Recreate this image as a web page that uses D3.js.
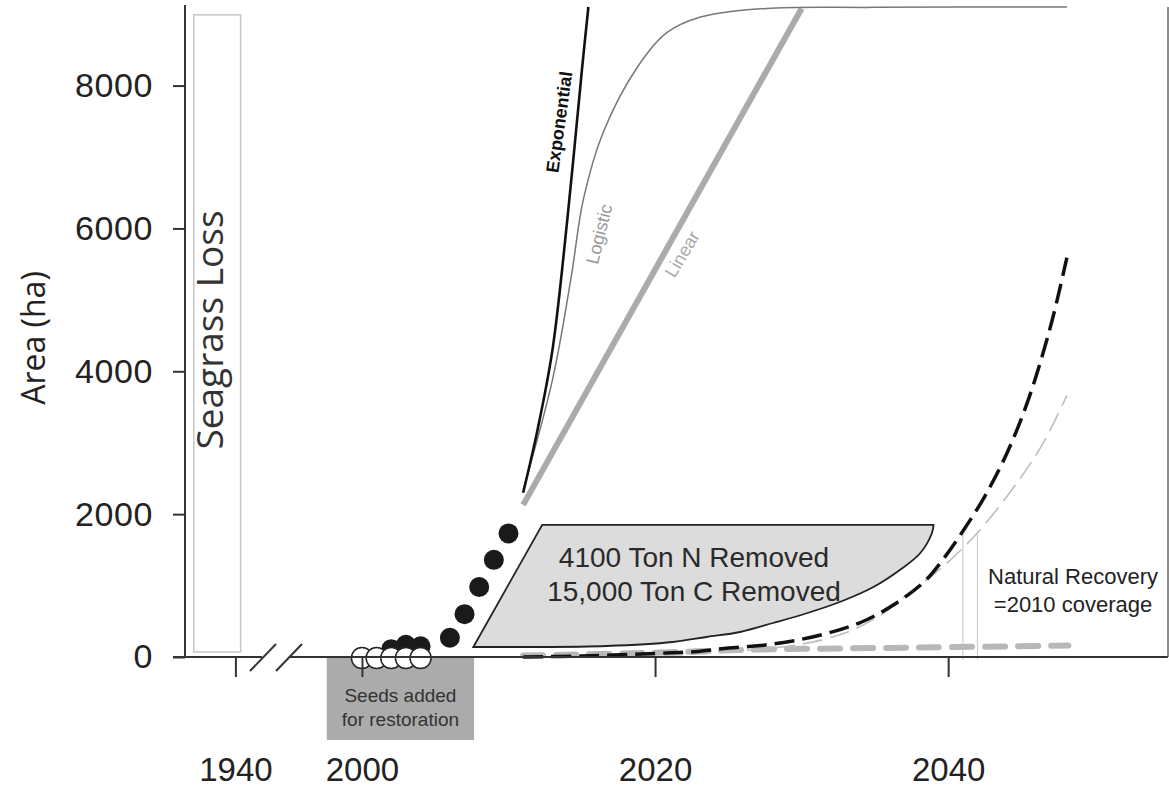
<!DOCTYPE html>
<html>
<head>
<meta charset="utf-8">
<script src="https://cdn.jsdelivr.net/npm/d3@7"></script>
<style>
  html, body { margin: 0; padding: 0; background: #fff; }
  svg { display: block; }
  .axis path, .axis line { stroke: #333; stroke-width: 2; }
  .axis text { fill: #222; font-family: "Liberation Sans", Arial, sans-serif; }
</style>
</head>
<body>
<svg id="chart"></svg>
<script>
// ---- data ----
const yTicks = [0, 2000, 4000, 6000, 8000];
const xTicks = [2000, 2020, 2040];
const preTicks = [1940];

// pre-break bar: seagrass lost before 1940
const lossYears = [1932, 1941];
const lossArea = 8990;

// seeded plots (open circles) and observed meadow area (filled)
const seedYears = [2000, 2001, 2002, 2003, 2004];
const seedArea  = [0, 0, 0, 0, 0];
const obsYears  = [2002, 2003, 2004, 2006, 2007, 2008, 2009, 2010];
const obsArea   = [110, 170, 150, 270, 600, 980, 1360, 1730];

// projections
const expYears = [2011, 2012, 2013, 2014, 2015, 2015.45];
const expArea  = [2300, 3200, 4300, 6100, 8200, 9100];
const logYears = [2011, 2013, 2014.3, 2015.1, 2016.45, 2018.8, 2020.8, 2023.1, 2027.6, 2035, 2048.1];
const logArea  = [2340, 3880, 5350, 6400, 7340, 8260, 8740, 8960, 9080, 9095, 9100];
const linYears = [2011, 2030];
const linArea  = [2130, 9080];

// natural recovery scenarios
const natBlackYears = [2011, 2015, 2020, 2022.7, 2025, 2027.2, 2029.4, 2031.8, 2034.1, 2036.2, 2038.4, 2039.7, 2041, 2042.5, 2044, 2045.5, 2047, 2048.1];
const natBlackArea  = [0, 15, 50, 75, 125, 160, 225, 335, 490, 720, 1060, 1380, 1760, 2250, 2850, 3620, 4640, 5590];
const natGrayYears  = [2011, 2020, 2025, 2030, 2033, 2035.5, 2037.6, 2039.5, 2042, 2044.7, 2046.5, 2048.1];
const natGrayArea   = [0, 20, 70, 180, 340, 600, 940, 1240, 1740, 2440, 3000, 3660];
const natFlatYears  = [2011, 2020, 2026, 2037, 2048.2];
const natFlatArea   = [20, 60, 100, 130, 160];
const markYears = [2041, 2042];
const markArea  = [1760, 1740];

// nutrient / carbon removal area
const removedYears = [2007.6, 2012.3, 2039.0, 2038.9, 2038.1, 2036.7, 2034.9, 2032.6, 2030.4, 2028.05, 2025.8, 2023.5, 2021.2, 2016.7, 2012.2];
const removedArea  = [140, 1850, 1850, 1740, 1456, 1218, 980, 770, 616, 476, 350, 280, 210, 154, 140];

// seeding period
const seedPeriod = [1997.6, 2007.65];

// ---- layout ----
const W = 1169, H = 789;
const svg = d3.select("#chart").attr("width", W).attr("height", H);

const y = d3.scaleLinear().domain([0, 9100]).range([657, 7]);
const x = d3.scaleLinear().domain([1995.5, 2055]).range([296, 1168]);
const xPre = d3.scaleLinear().domain([1928, 1943]).range([173, 251]);

const sans = "'Liberation Sans', Arial, sans-serif";
const human = "'Open Sans', 'Noto Sans', sans-serif";

// seeding box
svg.append("rect")
  .attr("x", x(seedPeriod[0])).attr("y", y(0))
  .attr("width", x(seedPeriod[1]) - x(seedPeriod[0])).attr("height", 83)
  .attr("fill", "#ababab");
svg.append("text")
  .attr("text-anchor", "middle").attr("font-family", sans).attr("font-size", 19)
  .attr("fill", "#333")
  .selectAll("tspan").data(["Seeds added", "for restoration"]).join("tspan")
  .attr("x", x((seedPeriod[0] + seedPeriod[1]) / 2))
  .attr("y", (d, i) => i ? 726 : 702)
  .text(d => d);

// loss bar
svg.append("rect")
  .attr("x", xPre(lossYears[0])).attr("y", y(lossArea))
  .attr("width", xPre(lossYears[1]) - xPre(lossYears[0]))
  .attr("height", y(0) - y(lossArea) - 5)
  .attr("fill", "none").attr("stroke", "#c6c6c6").attr("stroke-width", 1.5);
svg.append("text")
  .attr("transform", `translate(${xPre((lossYears[0] + lossYears[1]) / 2) + 6},330) rotate(-90)`)
  .attr("text-anchor", "middle").attr("font-family", human).attr("font-size", 37)
  .attr("fill", "#333").text("Seagrass Loss");

// removal polygon
const arc = d3.line().x(d => x(d[0])).y(d => y(d[1])).curve(d3.curveCatmullRom);
const pts = removedYears.map((v, i) => [v, removedArea[i]]);
const arcPath = arc(pts.slice(2)).replace(/^M/, "L");
svg.append("path")
  .attr("d", `M${x(pts[0][0])},${y(pts[0][1])}L${x(pts[1][0])},${y(pts[1][1])}${arcPath}Z`)
  .attr("fill", "#dcdcdc").attr("stroke", "#222").attr("stroke-width", 1.8);
svg.append("text")
  .attr("text-anchor", "middle").attr("font-family", sans).attr("font-size", 28).attr("fill", "#2a2a2a")
  .selectAll("tspan").data(["4100 Ton N Removed", "15,000 Ton C Removed"]).join("tspan")
  .attr("x", 694).attr("y", (d, i) => i ? 601 : 567)
  .text(d => d);

// recovery markers
markYears.forEach((yr, i) => {
  svg.append("line")
    .attr("x1", x(yr)).attr("x2", x(yr))
    .attr("y1", y(markArea[i])).attr("y2", y(0) + 3)
    .attr("stroke", "#cfcfcf").attr("stroke-width", 1.2);
});

const line = d3.line().x(d => x(d[0])).y(d => y(d[1])).curve(d3.curveCatmullRom.alpha(0.5));
const zip = (a, b) => a.map((v, i) => [v, b[i]]);

// natural recovery lines
svg.append("path").attr("d", line(zip(natFlatYears, natFlatArea)))
  .attr("fill", "none").attr("stroke", "#b8b8b8").attr("stroke-width", 6)
  .attr("stroke-linecap", "round").attr("stroke-dasharray", "20,13");
svg.append("path").attr("d", line(zip(natGrayYears, natGrayArea)))
  .attr("fill", "none").attr("stroke", "#bdbdbd").attr("stroke-width", 1.6)
  .attr("stroke-dasharray", "20,8");
svg.append("path").attr("d", line(zip(natBlackYears, natBlackArea)))
  .attr("fill", "none").attr("stroke", "#111").attr("stroke-width", 3.5)
  .attr("stroke-dasharray", "20,8");

// projections
svg.append("path").attr("d", line(zip(linYears, linArea)))
  .attr("fill", "none").attr("stroke", "#ababab").attr("stroke-width", 6);
svg.append("path").attr("d", line(zip(logYears, logArea)))
  .attr("fill", "none").attr("stroke", "#777").attr("stroke-width", 1.5);
svg.append("path").attr("d", line(zip(expYears, expArea)))
  .attr("fill", "none").attr("stroke", "#111").attr("stroke-width", 2.6);

const curveLabels = [
  { t: "Exponential", cx: 559, cy: 122, a: -82, c: "#111", w: "bold" },
  { t: "Logistic",    cx: 599, cy: 234, a: -76, c: "#999", w: "normal" },
  { t: "Linear",      cx: 682, cy: 254, a: -59, c: "#aaa", w: "normal" }
];
curveLabels.forEach(d => {
  svg.append("text")
    .attr("transform", `translate(${d.cx},${d.cy}) rotate(${d.a})`)
    .attr("text-anchor", "middle").attr("dy", "0.35em")
    .attr("font-family", sans).attr("font-size", 18).attr("font-weight", d.w)
    .attr("fill", d.c).text(d.t);
});

// observed area
svg.selectAll("circle.obs").data(zip(obsYears, obsArea)).join("circle")
  .attr("class", "obs").attr("cx", d => x(d[0])).attr("cy", d => y(d[1])).attr("r", 10)
  .attr("fill", "#1a1a1a");
svg.selectAll("circle.seed").data(zip(seedYears, seedArea)).join("circle")
  .attr("class", "seed").attr("cx", d => x(d[0])).attr("cy", d => y(d[1]) + 1).attr("r", 10.5)
  .attr("fill", "#fff").attr("stroke", "#222").attr("stroke-width", 1.5);

svg.append("text")
  .attr("text-anchor", "middle").attr("font-family", sans).attr("font-size", 22).attr("fill", "#222")
  .selectAll("tspan").data(["Natural Recovery", "=2010 coverage"]).join("tspan")
  .attr("x", 1073).attr("y", (d, i) => i ? 612 : 584)
  .text(d => d);

// ---- axes ----
const yAxis = svg.append("g").attr("class", "axis").attr("transform", "translate(185,0)")
  .call(d3.axisLeft(y).tickValues(yTicks).tickSize(12).tickSizeOuter(0).tickPadding(20).tickFormat(d3.format("d")));
yAxis.selectAll("text").attr("font-size", 34).attr("letter-spacing", 0.6);
yAxis.select(".domain").attr("d", `M0,${y(0)}V5`);

const xAxis = svg.append("g").attr("class", "axis").attr("transform", `translate(0,${y(0)})`)
  .call(d3.axisBottom(x).tickValues(xTicks).tickSize(20).tickSizeOuter(0).tickPadding(81).tickFormat(d3.format("d")));
xAxis.selectAll("text").attr("font-size", 33);
xAxis.select(".domain").attr("d", `M290,0H1168`);

const preAxis = svg.append("g").attr("class", "axis").attr("transform", `translate(0,${y(0)})`)
  .call(d3.axisBottom(xPre).tickValues(preTicks).tickSize(20).tickSizeOuter(0).tickPadding(81).tickFormat(d3.format("d")));
preAxis.selectAll("text").attr("font-size", 33);
preAxis.select(".domain").attr("d", `M173,0H262`);

// axis break marks
[250, 276].forEach(bx => {
  svg.append("line").attr("x1", bx).attr("y1", 671).attr("x2", bx + 26).attr("y2", 644)
    .attr("stroke", "#333").attr("stroke-width", 2);
});

// right frame
svg.append("line").attr("x1", 1168).attr("x2", 1168).attr("y1", 7).attr("y2", y(0))
  .attr("stroke", "#666").attr("stroke-width", 1.5);

// y title
svg.append("text")
  .attr("transform", "translate(45,338) rotate(-90)")
  .attr("text-anchor", "middle").attr("font-family", human).attr("font-size", 32)
  .attr("fill", "#222").text("Area (ha)");
</script>
</body>
</html>
